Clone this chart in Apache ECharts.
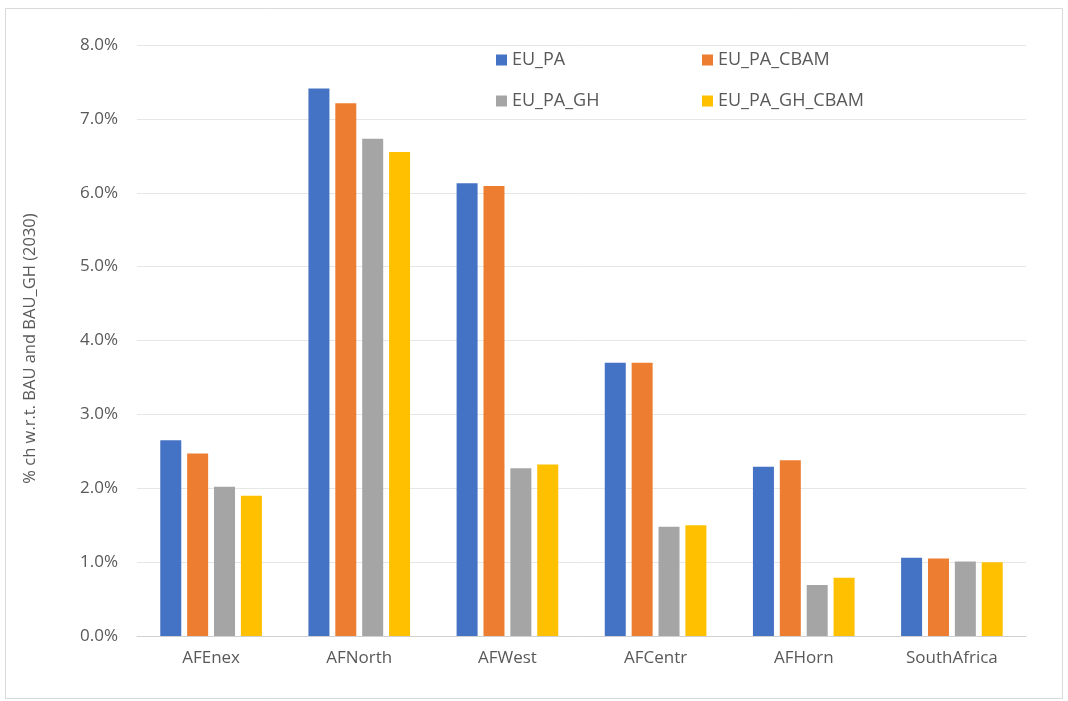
<!DOCTYPE html>
<html>
<head>
<meta charset="utf-8">
<script src="https://cdn.jsdelivr.net/npm/echarts@6/dist/echarts.min.js"></script>
<style>
  html, body { margin: 0; padding: 0; background: #fff; }
  #chart { width: 1068px; height: 701px; }
</style>
</head>
<body>
<div id="chart"></div>
<script>
// Regions and scenario results (% change, 2030)
const regions = ['AFEnex', 'AFNorth', 'AFWest', 'AFCentr', 'AFHorn', 'SouthAfrica'];
const seriesNames = ['EU_PA', 'EU_PA_CBAM', 'EU_PA_GH', 'EU_PA_GH_CBAM'];
const euPA        = [2.65, 7.41, 6.13, 3.70, 2.29, 1.06];
const euPACbam    = [2.47, 7.21, 6.09, 3.70, 2.38, 1.05];
const euPAGH      = [2.02, 6.73, 2.27, 1.48, 0.69, 1.01];
const euPAGHCbam  = [1.90, 6.55, 2.32, 1.50, 0.79, 1.00];
const yTicks = { min: 0, max: 8, interval: 1 };
const yAxisTitle = '% ch w.r.t. BAU and BAU_GH (2030)';

const colors = ['#4472C4', '#ED7D31', '#A5A5A5', '#FFC000'];
const values = [euPA, euPACbam, euPAGH, euPAGHCbam];
const font = '"Open Sans", "Liberation Sans", sans-serif';
const textColor = '#595959';

// one legend per entry so the two-by-two block can be placed freely
const legendSpots = [[496, 49], [702, 49], [496, 90], [702, 90]];
const legends = seriesNames.map((n, i) => ({
  data: [n],
  left: legendSpots[i][0],
  top: legendSpots[i][1],
  padding: 0,
  icon: 'rect',
  itemWidth: 11,
  itemHeight: 11,
  selectedMode: false,
  textStyle: { color: textColor, fontFamily: font, fontSize: 18, lineHeight: 22 }
}));

const chart = echarts.init(document.getElementById('chart'), null, { renderer: 'canvas' });
chart.setOption({
  animation: false,
  backgroundColor: '#ffffff',
  color: colors,
  legend: legends,
  graphic: [{
    type: 'rect',
    shape: { x: 5.5, y: 8.5, width: 1057, height: 690 },
    style: { fill: 'none', stroke: '#d9d9d9', lineWidth: 1 },
    silent: true
  }],
  grid: { left: 137, right: 42, top: 45, bottom: 65 },
  xAxis: {
    type: 'category',
    data: regions,
    axisLine: { lineStyle: { color: '#d0d0d0', width: 1 } },
    axisTick: { show: false },
    axisLabel: { color: textColor, fontFamily: font, fontSize: 17, margin: 14 }
  },
  yAxis: {
    type: 'value',
    min: yTicks.min,
    max: yTicks.max,
    interval: yTicks.interval,
    name: yAxisTitle,
    nameLocation: 'middle',
    nameGap: 98,
    nameTextStyle: { color: textColor, fontFamily: font, fontSize: 16.5, padding: [0, 16, 0, 0] },
    axisLine: { show: false },
    axisTick: { show: false },
    splitLine: { lineStyle: { color: '#e6e6e6', width: 1 } },
    axisLabel: {
      color: textColor, fontFamily: font, fontSize: 17, margin: 19,
      formatter: v => v.toFixed(1) + '%'
    }
  },
  series: seriesNames.map((n, i) => ({
    name: n,
    type: 'bar',
    data: values[i],
    barWidth: 21,
    barGap: '28%',
    itemStyle: { color: colors[i] }
  }))
});
</script>
</body>
</html>
